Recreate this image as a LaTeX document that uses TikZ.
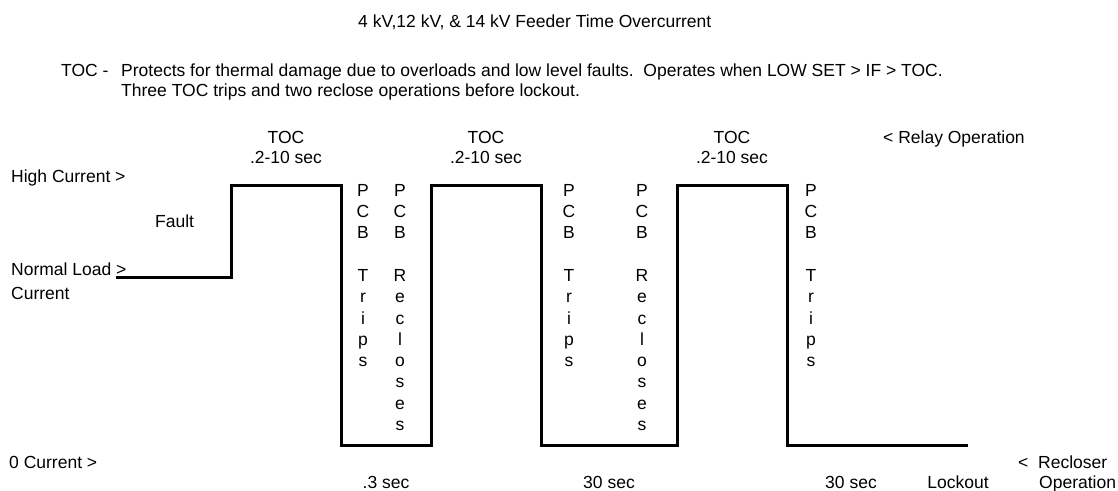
\documentclass[tikz,border=0pt]{standalone}
\usepackage{fontspec}
\setmainfont{Liberation Sans}
\begin{document}
\begin{tikzpicture}[
  x=1pt, y=-1pt,
  txt/.style={font=\fontsize{17.5}{21.3}\selectfont, inner sep=0pt,
              text height=12.5pt, text depth=0pt},
  letters/.style={font=\fontsize{17.5}{21.3}\selectfont, inner sep=0pt,
                  align=center, anchor=north},
  wave/.style={line width=3pt, line join=miter},
]
\useasboundingbox (0,0) rectangle (1118,490);

% heading and description
\node[txt, anchor=west] (title) at (358,21) {4 kV,12 kV, \& 14 kV Feeder Time Overcurrent};
\node[txt, anchor=west] (tocdef) at (61,70) {TOC -};
\node[txt, anchor=west] (desc1) at (121,70) {Protects for thermal damage due to overloads and low level faults.~~Operates when LOW SET > IF > TOC.};
\node[txt, anchor=west] (desc2) at (121,90) {Three TOC trips and two reclose operations before lockout.};

% relay operation row
\node[txt] (toc1) at (286,137) {TOC};
\node[txt] (sec1) at (286,157) {.2-10 sec};
\node[txt] (toc2) at (486,137) {TOC};
\node[txt] (sec2) at (486,157) {.2-10 sec};
\node[txt] (toc3) at (732,137) {TOC};
\node[txt] (sec3) at (732,157) {.2-10 sec};
\node[txt, anchor=west] (relay) at (883,137) {< Relay Operation};

% current levels
\node[txt, anchor=west] (high) at (11,176) {High Current >};
\node[txt, anchor=west] (fault) at (155,221) {Fault};
\node[txt, anchor=west] (normal) at (11,269) {Normal Load >};
\node[txt, anchor=west] (normal2) at (11,293) {Current};
\node[txt, anchor=west] (zero) at (9,462) {0 Current >};

% current waveform
\draw[wave] (116,277) -- (231,277) -- (231,185) -- (341,185) -- (341,445)
  -- (431,445) -- (431,185) -- (541,185) -- (541,445) -- (677,445)
  -- (677,185) -- (787,185) -- (787,445) -- (968,445);

% breaker actions
\node[letters] (trip1) at (363,184) {P\\C\\B\\[21.3pt]T\\r\\i\\p\\s};
\node[letters] (close1) at (400,184) {P\\C\\B\\[21.3pt]R\\e\\c\\l\\o\\s\\e\\s};
\node[letters] (trip2) at (569,184) {P\\C\\B\\[21.3pt]T\\r\\i\\p\\s};
\node[letters] (close2) at (642,184) {P\\C\\B\\[21.3pt]R\\e\\c\\l\\o\\s\\e\\s};
\node[letters] (trip3) at (811,184) {P\\C\\B\\[21.3pt]T\\r\\i\\p\\s};

% recloser operation row
\node[txt] (dead1) at (386,482) {.3 sec};
\node[txt] (dead2) at (609,482) {30 sec};
\node[txt] (dead3) at (851,482) {30 sec};
\node[txt] (lock) at (958,482) {Lockout};
\node[txt, anchor=west] (recl) at (1018,462) {<~~Recloser};
\node[txt, anchor=west] (recl2) at (1039,482) {Operation};

\end{tikzpicture}
\end{document}
